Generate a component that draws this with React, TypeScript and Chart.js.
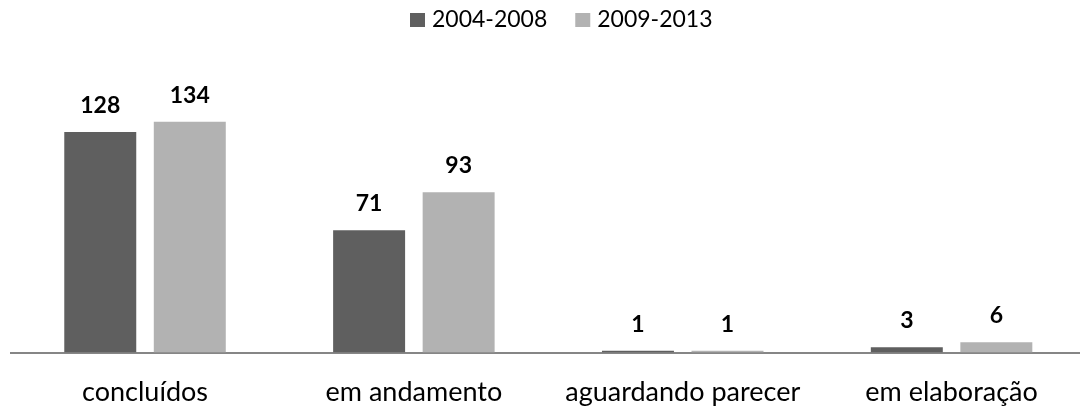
import React, { useEffect, useRef } from "react";
import { Chart, registerables } from "chart.js";

Chart.register(...registerables);

const categories = ["concluídos", "em andamento", "aguardando parecer", "em elaboração"];
const seriesNames = ["2004-2008", "2009-2013"];
const values2004 = [128, 71, 1, 3];
const values2009 = [134, 93, 1, 6];
const seriesColors = ["#5f5f5f", "#b2b2b2"];

const FONT = "Lato, 'Open Sans', sans-serif";

const valueLabels = {
  id: "valueLabels",
  afterDatasetsDraw(chart: any) {
    const ctx = chart.ctx;
    ctx.save();
    ctx.font = `bold 23px ${FONT}`;
    ctx.fillStyle = "#000";
    ctx.textAlign = "center";
    ctx.textBaseline = "alphabetic";
    chart.data.datasets.forEach((ds: any, i: number) => {
      const meta = chart.getDatasetMeta(i);
      meta.data.forEach((el: any, j: number) => {
        ctx.fillText(String(ds.data[j]), el.x, el.y - 19);
      });
    });
    ctx.restore();
  },
};

const customLegend = {
  id: "customLegend",
  afterDraw(chart: any) {
    const ctx = chart.ctx;
    ctx.save();
    ctx.font = `23px ${FONT}`;
    ctx.textBaseline = "alphabetic";
    ctx.textAlign = "left";
    let x = 410;
    chart.data.datasets.forEach((ds: any) => {
      ctx.fillStyle = ds.backgroundColor;
      ctx.fillRect(x, 13, 15, 14);
      ctx.fillStyle = "#000";
      ctx.fillText(ds.label, x + 22, 27);
      x += 22 + ctx.measureText(ds.label).width + 28;
    });
    ctx.restore();
  },
};

export default function App() {
  const ref = useRef<HTMLCanvasElement>(null);
  useEffect(() => {
    if (!ref.current) return;
    const chart = new Chart(ref.current, {
      type: "bar",
      data: {
        labels: categories,
        datasets: [
          { label: seriesNames[0], data: values2004, backgroundColor: seriesColors[0] },
          { label: seriesNames[1], data: values2009, backgroundColor: seriesColors[1] },
        ],
      },
      options: {
        animation: false,
        responsive: true,
        maintainAspectRatio: false,
        layout: { padding: { left: 10.6, right: 0, top: 76.9, bottom: 0 } },
        datasets: { bar: { categoryPercentage: 0.666, barPercentage: 0.804 } },
        plugins: { legend: { display: false }, tooltip: { enabled: false } },
        scales: {
          y: { display: false, min: 0, max: 160 },
          x: {
            grid: { display: false, drawTicks: false },
            border: { display: true, color: "#868686", width: 2 },
            ticks: { color: "#000", padding: 24, font: { family: FONT, size: 27 } },
            afterFit: (scale: any) => {
              scale.height = 53.5;
            },
          },
        },
      },
      plugins: [valueLabels, customLegend],
    });
    return () => chart.destroy();
  }, []);
  return (
    <div style={{ position: "fixed", left: 0, top: 0, width: 1080, height: 406, overflow: "hidden", background: "#fff" }}>
      <div style={{ position: "relative", width: 1086, height: 406 }}>
        <canvas ref={ref} />
      </div>
    </div>
  );
}
